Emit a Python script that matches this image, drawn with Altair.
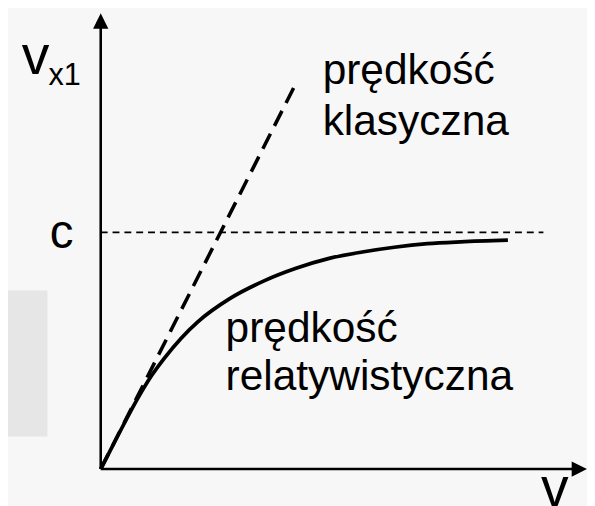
import altair as alt
import pandas as pd

# ---- data ----
# relativistic velocity curve (v in units where c = 1)
rel_v = [0.0, 0.15, 0.32, 0.43, 0.54, 0.68, 0.82, 1.09, 1.38, 1.65, 1.93, 2.21, 2.48, 2.76, 3.04, 3.44]
rel_vx = [0.0, 0.146, 0.305, 0.395, 0.47, 0.553, 0.622, 0.72, 0.795, 0.848, 0.89, 0.917, 0.937, 0.952, 0.96, 0.967]

# classical velocity line
cls_v = [0.0, 1.65]
cls_vx = [0.0, 1.63]

# speed of light level
c_level = 1.0
c_line_end = 3.74

# axes extents
x_axis_end = 4.05
y_axis_end = 1.90
x_arrow_tip = 4.108
y_arrow_tip = 1.925

# text labels
label_text = ["prędkość", "klasyczna", "prędkość", "relatywistyczna"]
label_v = [1.875, 1.875, 1.055, 1.055]
label_vx = [1.625, 1.4125, 0.5375, 0.333]

# gray box remnant on the left
box_v = [-0.85, -0.45]
box_vx = [0.1375, 0.754]

# ---- layout ----
W, H = 587, 498
ORIGIN_X, ORIGIN_Y = 94, 464     # pixel position of (0,0) inside the svg
UX, UY = 120.0, 240.0            # pixels per unit

x_dom = [-ORIGIN_X / UX, (W - ORIGIN_X) / UX]
y_dom = [(ORIGIN_Y - H) / UY, ORIGIN_Y / UY]

xs = alt.Scale(domain=x_dom, nice=False, zero=False)
ys = alt.Scale(domain=y_dom, nice=False, zero=False)

def X(f="v"):
    return alt.X(f"{f}:Q", scale=xs, axis=None)

def Y(f="vx"):
    return alt.Y(f"{f}:Q", scale=ys, axis=None)

FONT = "Liberation Sans"

box_df = pd.DataFrame({"v": [box_v[0]], "v2": [box_v[1]], "vx": [box_vx[0]], "vx2": [box_vx[1]]})
box = alt.Chart(box_df).mark_rect(color="#e6e6e6").encode(
    x=X(), x2="v2:Q", y=Y(), y2="vx2:Q")

axes_df = pd.DataFrame({"v": [0, 0], "vx": [0, 0], "v2": [x_axis_end, 0], "vx2": [0, y_axis_end]})
axes = alt.Chart(axes_df).mark_rule(color="black", strokeWidth=2.6).encode(
    x=X(), y=Y(), x2="v2:Q", y2="vx2:Q")

up_arrow = alt.Chart(pd.DataFrame({"v": [0], "vx": [y_arrow_tip]})).mark_point(
    shape="M0,0L1,2L-1,2Z", filled=True, size=240, color="black", opacity=1, strokeWidth=0
).encode(x=X(), y=Y())

right_arrow = alt.Chart(pd.DataFrame({"v": [x_arrow_tip], "vx": [0]})).mark_point(
    shape="M0,0L-2,-1L-2,1Z", filled=True, size=240, color="black", opacity=1, strokeWidth=0
).encode(x=X(), y=Y())

c_df = pd.DataFrame({"v": [0], "v2": [c_line_end], "vx": [c_level]})
c_line = alt.Chart(c_df).mark_rule(color="black", strokeWidth=1.8, strokeDash=[7, 5]).encode(
    x=X(), x2="v2:Q", y=Y())

cls_df = pd.DataFrame({"v": cls_v, "vx": cls_vx})
cls_line = alt.Chart(cls_df).mark_line(color="black", strokeWidth=3.6, strokeDash=[17, 9]).encode(
    x=X(), y=Y())

rel_df = pd.DataFrame({"v": rel_v, "vx": rel_vx})
rel_line = alt.Chart(rel_df).mark_line(color="black", strokeWidth=3.8, interpolate="monotone").encode(
    x=X(), y=Y())

lab_df = pd.DataFrame({"v": label_v, "vx": label_vx, "t": label_text})
labels = alt.Chart(lab_df).mark_text(
    font=FONT, fontSize=43, align="left", baseline="alphabetic", color="black"
).encode(x=X(), y=Y(), text="t:N")

sym_df = pd.DataFrame({"v": [-0.667, -0.43, 3.72], "vx": [1.667, 0.933, -0.154], "t": ["v", "c", "v"],
                       "s": [56, 48, 56]})
symbols = alt.Chart(sym_df).mark_text(
    font=FONT, align="left", baseline="alphabetic", color="black"
).encode(x=X(), y=Y(), text="t:N", size=alt.Size("s:Q", scale=None, legend=None))

sub_df = pd.DataFrame({"v": [-0.4417], "vx": [1.621], "t": ["x1"]})
subscript = alt.Chart(sub_df).mark_text(
    font=FONT, fontSize=31, align="left", baseline="alphabetic", color="black"
).encode(x=X(), y=Y(), text="t:N")

chart = alt.layer(
    box, c_line, cls_line, rel_line, axes, up_arrow, right_arrow, labels, symbols, subscript
).properties(
    width=W, height=H,
    autosize=alt.AutoSizeParams(type="none"),
    padding=0,
    background="#f7f7f7",
).configure_view(stroke=None)

chart.save("out.html", embed_options={"renderer": "svg", "actions": False})
